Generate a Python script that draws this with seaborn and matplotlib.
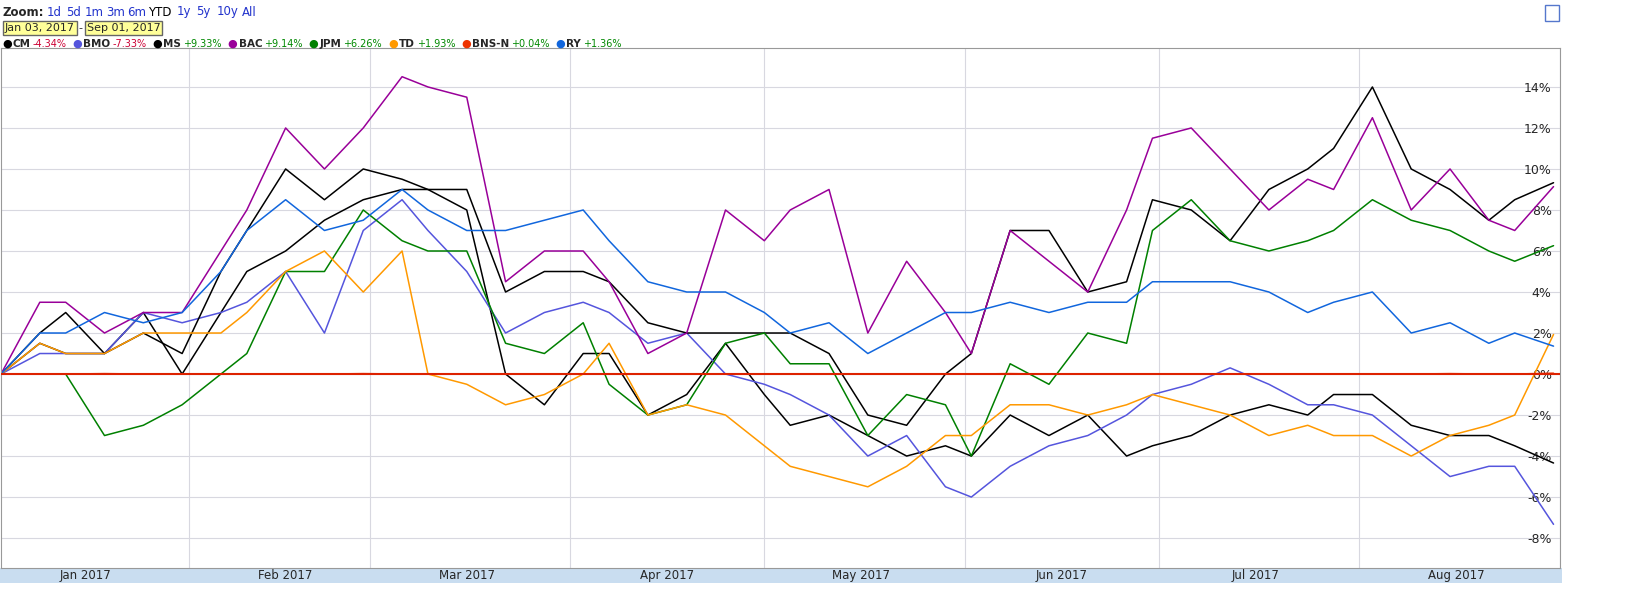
import pandas as pd
import matplotlib.pyplot as plt
import matplotlib.dates as mdates
import matplotlib.patches as mpatches
import seaborn as sns

# sampled every 4th business day from Jan 03 2017 to Sep 01 2017
dates = pd.bdate_range('2017-01-03', '2017-09-01')[::4]

cm = [0, 1.5, 1, 1, 3, 0, 3, 5, 6, 7.5, 8.5, 9, 9, 8, 0, -1.5, 1, 1, -2, -1, 1.5, -1, -2.5, -2,
      -3, -4, -3.5, -4, -2, -3, -2, -4, -3.5, -3, -2, -1.5, -2, -1, -1, -2.5, -3, -3, -3.5, -4.34]
bmo = [0, 1, 1, 1, 3, 2.5, 3, 3.5, 5, 2, 7, 8.5, 7, 5, 2, 3, 3.5, 3, 1.5, 2, 0, -0.5, -1, -2,
       -4, -3, -5.5, -6, -4.5, -3.5, -3, -2, -1, -0.5, 0.3, -0.5, -1.5, -1.5, -2, -3.5, -5, -4.5, -4.5, -7.33]
ms = [0, 2, 3, 1, 2, 1, 5, 7, 10, 8.5, 10, 9.5, 9, 9, 4, 5, 5, 4.5, 2.5, 2, 2, 2, 2, 1,
      -2, -2.5, 0, 1, 7, 7, 4, 4.5, 8.5, 8, 6.5, 9, 10, 11, 14, 10, 9, 7.5, 8.5, 9.33]
bac = [0, 3.5, 3.5, 2, 3, 3, 6, 8, 12, 10, 12, 14.5, 14, 13.5, 4.5, 6, 6, 4.5, 1, 2, 8, 6.5, 8, 9,
       2, 5.5, 3, 1, 7, 5.5, 4, 8, 11.5, 12, 10, 8, 9.5, 9, 12.5, 8, 10, 7.5, 7, 9.14]
jpm = [0, 0, 0, -3, -2.5, -1.5, 0, 1, 5, 5, 8, 6.5, 6, 6, 1.5, 1, 2.5, -0.5, -2, -1.5, 1.5, 2, 0.5, 0.5,
       -3, -1, -1.5, -4, 0.5, -0.5, 2, 1.5, 7, 8.5, 6.5, 6, 6.5, 7, 8.5, 7.5, 7, 6, 5.5, 6.26]
td = [0, 1.5, 1, 1, 2, 2, 2, 3, 5, 6, 4, 6, 0, -0.5, -1.5, -1, 0, 1.5, -2, -1.5, -2, -3.5, -4.5, -5,
      -5.5, -4.5, -3, -3, -1.5, -1.5, -2, -1.5, -1, -1.5, -2, -3, -2.5, -3, -3, -4, -3, -2.5, -2, 1.93]
bns = [0, 0, 0, 0.02, 0, 0, 0.01, 0, 0, 0, 0.02, 0, 0, 0, 0, 0.01, 0, 0, 0, 0, 0, 0, 0.01, 0,
       0, 0, 0, 0, 0.02, 0, 0, 0, 0, 0, 0.01, 0, 0, 0, 0, 0, 0.02, 0, 0, 0.04]
ry = [0, 2, 2, 3, 2.5, 3, 5, 7, 8.5, 7, 7.5, 9, 8, 7, 7, 7.5, 8, 6.5, 4.5, 4, 4, 3, 2, 2.5,
      1, 2, 3, 3, 3.5, 3, 3.5, 3.5, 4.5, 4.5, 4.5, 4, 3, 3.5, 4, 2, 2.5, 1.5, 2, 1.36]

names = ['CM', 'BMO', 'MS', 'BAC', 'JPM', 'TD', 'BNS-N', 'RY']
series = [cm, bmo, ms, bac, jpm, td, bns, ry]
colors = ['#000000', '#5555dd', '#000000', '#990099', '#008000', '#ff9900', '#ee3300', '#1166dd']
changes = ['-4.34%', '-7.33%', '+9.33%', '+9.14%', '+6.26%', '+1.93%', '+0.04%', '+1.36%']

df = pd.DataFrame({n: s for n, s in zip(names, series)})
df['Date'] = dates
long = df.melt(id_vars='Date', var_name='Ticker', value_name='Change')

sns.set_style('white')
W, H = 1640, 615
fig = plt.figure(figsize=(W / 100, H / 100), dpi=100)

def fx(px):
    return px / W

def fy(py):
    return 1 - py / H

# light blue band behind month labels
band = fig.add_axes([0, fy(583), fx(1562), 15 / H], zorder=-1)
band.set_facecolor('#c9ddf0')
band.set_xticks([])
band.set_yticks([])
for sp in band.spines.values():
    sp.set_visible(False)

ax = fig.add_axes([fx(1), fy(568), fx(1559), 520 / H])
sns.lineplot(data=long, x='Date', y='Change', hue='Ticker', hue_order=names,
             palette=dict(zip(names, colors)), linewidth=1.1, legend=False, ax=ax)
ax.axhline(0, color='#dd2200', lw=1.5, zorder=5)

ax.set_xlim(dates[0], pd.Timestamp('2017-09-01'))
ax.set_ylim(-9.46, 15.9)
ax.set_yticks(range(-8, 15, 2))
ax.yaxis.tick_right()
ax.tick_params(axis='y', direction='in', pad=-6, labelsize=9, length=0)
ax.set_yticklabels([f'{v}%' for v in range(-8, 15, 2)])
for lab in ax.get_yticklabels():
    lab.set_horizontalalignment('right')
ax.xaxis.set_major_locator(mdates.MonthLocator())
ax.xaxis.set_major_formatter(plt.NullFormatter())
ax.xaxis.set_minor_locator(mdates.MonthLocator(bymonthday=16))
ax.xaxis.set_minor_formatter(mdates.DateFormatter('%b %Y'))
ax.tick_params(axis='x', which='both', length=0, labelsize=8.5, pad=1)
ax.grid(True, axis='both', which='major', color='#d8d8e0', lw=0.8)
ax.set_xlabel('')
ax.set_ylabel('')
ax.patch.set_alpha(0)
for sp in ax.spines.values():
    sp.set_color('#999999')

# header: zoom buttons
fig.text(fx(3), fy(12), 'Zoom:', fontsize=8.5, weight='bold', va='center')
zoom_x = [47, 66, 85, 106, 127, 148, 177, 196, 217, 242]
for z, px in zip(['1d', '5d', '1m', '3m', '6m', 'YTD', '1y', '5y', '10y', 'All'], zoom_x):
    fig.text(fx(px), fy(12), z, fontsize=8.5, va='center',
             color='black' if z == 'YTD' else '#2233cc')

# date range boxes
fig.text(fx(5), fy(28), 'Jan 03, 2017', fontsize=8, va='center',
         bbox=dict(fc='#ffff99', ec='#666666', pad=1.2))
fig.text(fx(78), fy(28), '-', fontsize=8, va='center')
fig.text(fx(87), fy(28), 'Sep 01, 2017', fontsize=8, va='center',
         bbox=dict(fc='#ffff99', ec='#666666', pad=1.2))

# legend row, laid out by measured text widths
renderer = fig.canvas.get_renderer()
px = 2
for n, c, ch in zip(names, colors, changes):
    t = fig.text(fx(px), fy(44), '●', color=c, fontsize=8, va='center')
    px += t.get_window_extent(renderer).width + 1
    t = fig.text(fx(px), fy(44), n, fontsize=7.5, weight='bold', va='center')
    px += t.get_window_extent(renderer).width + 2
    t = fig.text(fx(px), fy(44), ch, fontsize=7, va='center',
                 color='#cc0033' if ch.startswith('-') else '#008800')
    px += t.get_window_extent(renderer).width + 6

fig.patches.append(mpatches.Rectangle((fx(1545), fy(21)), fx(14), 16 / H,
                                      transform=fig.transFigure, fc='white', ec='#5577cc'))

fig.savefig('out.png', dpi=100)
